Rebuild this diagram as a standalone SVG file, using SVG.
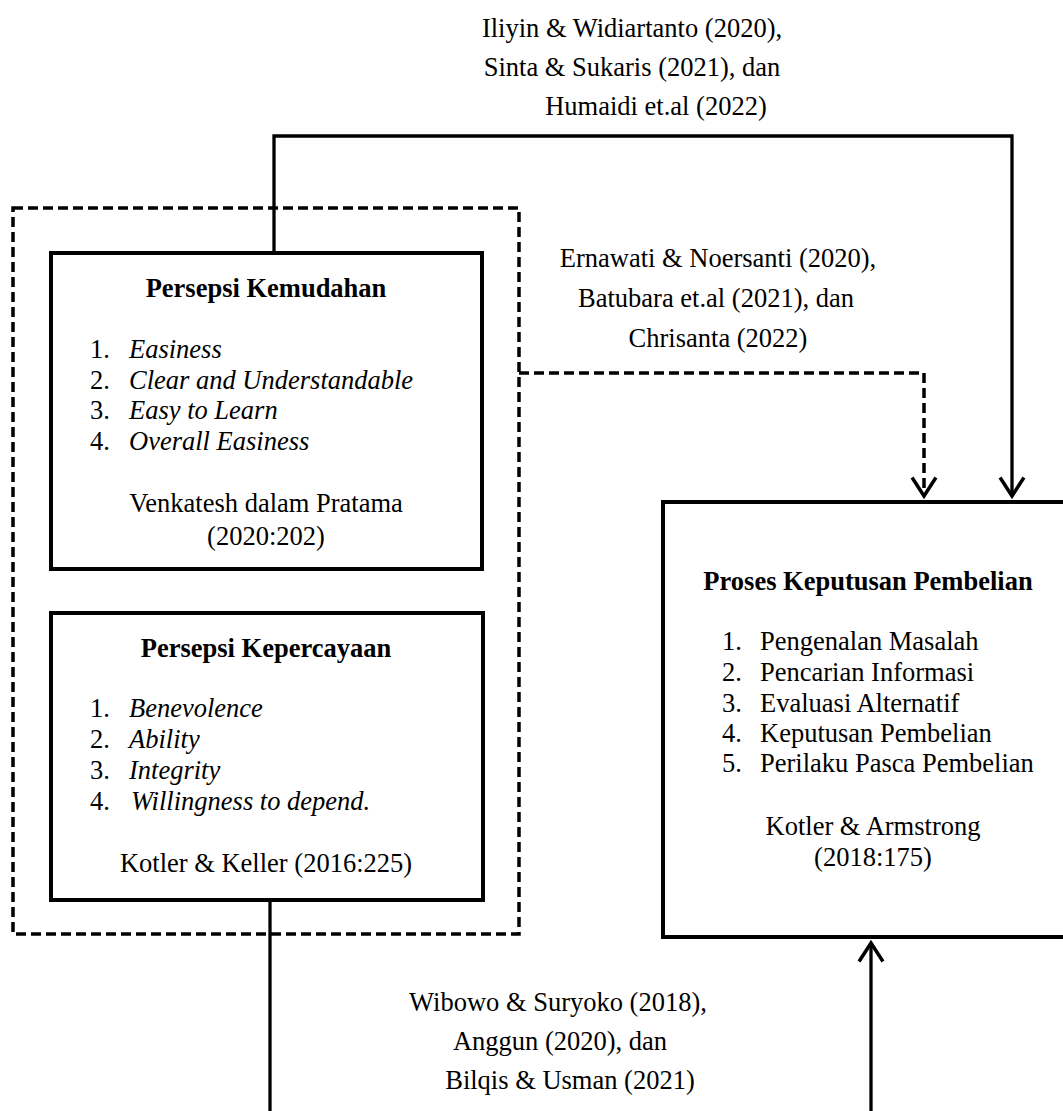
<svg xmlns="http://www.w3.org/2000/svg" width="1063" height="1111" viewBox="0 0 1063 1111">
<defs>
<style>
text{font-family:"Liberation Serif","Times New Roman",serif;font-size:26.5px;fill:#000}
.b{font-weight:bold}
.i{font-style:italic}
.c{text-anchor:middle}
.box{fill:#fff;stroke:#000;stroke-width:4}
.dash{fill:none;stroke:#000;stroke-width:3.5;stroke-dasharray:10 5}
.ln{fill:none;stroke:#000;stroke-width:3.3}
.ah{fill:none;stroke:#000;stroke-width:3.5;stroke-linecap:square}
</style>
</defs>
<rect width="1063" height="1111" fill="#fff"/>
<g id="connectors">
<polyline class="ln" points="274,253 274,136 1012,136 1012,495"/>
<polyline class="ah" points="1001,479 1012,496 1023,479"/>
<polyline class="dash" points="519,373 924,373 924,495"/>
<polyline class="ah" points="913,479 924,496 935,479"/>
<line class="ln" x1="270" y1="900" x2="270" y2="1111"/>
<line class="ln" x1="871" y1="945" x2="871" y2="1111"/>
<polyline class="ah" points="860,960 871,943 882,960"/>
</g>
<g id="group-outline">
<rect class="dash" x="13" y="208" width="506" height="726"/>
</g>
<g id="persepsi-kemudahan">
<rect class="box" x="51" y="253" width="431" height="316"/>
<text class="b c" x="266" y="297">Persepsi Kemudahan</text>
<text x="90" y="358">1.</text><text class="i" x="129" y="358">Easiness</text>
<text x="90" y="389">2.</text><text class="i" x="129" y="389">Clear and Understandable</text>
<text x="90" y="419">3.</text><text class="i" x="129" y="419">Easy to Learn</text>
<text x="90" y="450">4.</text><text class="i" x="129" y="450">Overall Easiness</text>
<text class="c" x="266" y="512">Venkatesh dalam Pratama</text>
<text class="c" x="266" y="545">(2020:202)</text>
</g>
<g id="persepsi-kepercayaan">
<rect class="box" x="51" y="613" width="432" height="287"/>
<text class="b c" x="266" y="657">Persepsi Kepercayaan</text>
<text x="90" y="717">1.</text><text class="i" x="129" y="717">Benevolence</text>
<text x="90" y="748">2.</text><text class="i" x="129" y="748">Ability</text>
<text x="90" y="779">3.</text><text class="i" x="129" y="779">Integrity</text>
<text x="90" y="810">4.</text><text class="i" x="131" y="810">Willingness to depend.</text>
<text class="c" x="266" y="872">Kotler &amp; Keller (2016:225)</text>
</g>
<g id="proses-keputusan">
<rect class="box" x="663" y="502" width="420" height="435"/>
<text class="b c" x="868" y="590">Proses Keputusan Pembelian</text>
<text x="722" y="650">1.</text><text x="760" y="650">Pengenalan Masalah</text>
<text x="722" y="681">2.</text><text x="760" y="681">Pencarian Informasi</text>
<text x="722" y="712">3.</text><text x="760" y="712">Evaluasi Alternatif</text>
<text x="722" y="742">4.</text><text x="760" y="742">Keputusan Pembelian</text>
<text x="722" y="772">5.</text><text x="760" y="772">Perilaku Pasca Pembelian</text>
<text class="c" x="873" y="835">Kotler &amp; Armstrong</text>
<text class="c" x="873" y="866">(2018:175)</text>
</g>
<g id="label-top">
<text class="c" x="632" y="37">Iliyin &amp; Widiartanto (2020),</text>
<text class="c" x="632" y="76">Sinta &amp; Sukaris (2021), dan</text>
<text class="c" x="656" y="115">Humaidi et.al (2022)</text>
</g>
<g id="label-middle">
<text class="c" x="718" y="267">Ernawati &amp; Noersanti (2020),</text>
<text class="c" x="716" y="307">Batubara et.al (2021), dan</text>
<text class="c" x="718" y="347">Chrisanta (2022)</text>
</g>
<g id="label-bottom">
<text class="c" x="558" y="1011">Wibowo &amp; Suryoko (2018),</text>
<text class="c" x="560" y="1050">Anggun (2020), dan</text>
<text class="c" x="570" y="1089">Bilqis &amp; Usman (2021)</text>
</g>
</svg>
